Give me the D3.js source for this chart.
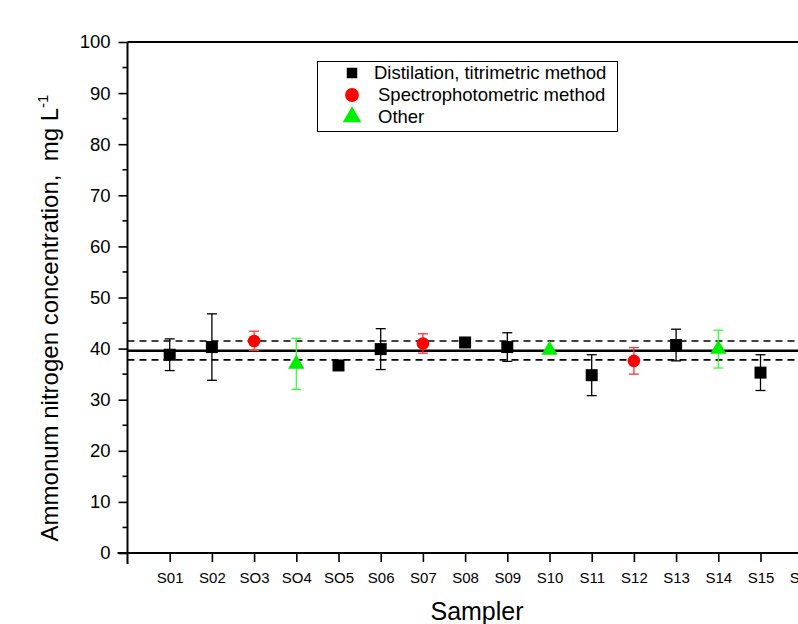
<html>
<head>
<style>
  body { margin: 0; background: #fff; }
  text { font-family: "Liberation Sans", Arial, sans-serif; fill: #000; }
</style>
</head>
<body>
<script src="https://d3js.org/d3.v7.min.js" charset="utf-8"></script>
<script type="text/javascript">

// data
var samplers = ["S01", "S02", "SO3", "SO4", "SO5", "S06", "S07", "S08", "S09", "S10", "S11", "S12", "S13", "S14", "S15", "S16"];
var methods  = ["D", "D", "S", "O", "D", "D", "S", "D", "D", "O", "D", "S", "D", "O", "D", null];
var values   = [38.8, 40.3, 41.5, 37.0, 36.7, 39.9, 41.0, 41.2, 40.3, 39.7, 34.8, 37.6, 40.7, 39.9, 35.3, null];
var errors   = [3.1, 6.5, 1.9, 5.0, 0, 4.0, 1.9, 0, 2.8, 0, 4.0, 2.6, 3.1, 3.7, 3.5, null];
var refLines = [{ v: 39.6, dash: false }, { v: 41.5, dash: true }, { v: 37.8, dash: true }];
var legendItems = [
  { key: "D", label: "Distilation, titrimetric method" },
  { key: "S", label: "Spectrophotometric method" },
  { key: "O", label: "Other" }
];
var yTicks = d3.range(0, 101, 10);

var width = 798, height = 624;
var x0 = 127.5, yTop = 42, yBot = 553;
var colors = { D: "#000000", S: "#ff0000", O: "#00ee00" };
var errColors = { D: "#000000", S: "#ff3333", O: "#33ff33" };

var svg = d3.select("body").append("svg")
    .attr("width", width)
    .attr("height", height);

var x = d3.scaleLinear().domain([0, 16]).range([x0, x0 + 16 * 42.2]);
var y = d3.scaleLinear().domain([0, 100]).range([yBot, yTop]);

// reference lines
svg.append("g").selectAll("line")
    .data(refLines).enter().append("line")
    .attr("x1", x0).attr("x2", width)
    .attr("y1", function(d) { return y(d.v); })
    .attr("y2", function(d) { return y(d.v); })
    .attr("stroke", "#000")
    .attr("stroke-width", function(d) { return d.dash ? 1.6 : 2.5; })
    .attr("stroke-dasharray", function(d) { return d.dash ? "7,5" : null; });

// y axis
var yAxis = svg.append("g")
    .attr("transform", "translate(" + x0 + ",0)")
    .call(d3.axisLeft(y).tickValues(yTicks).tickSize(9).tickPadding(8));
yAxis.select(".domain").remove();
yAxis.selectAll("line").attr("stroke-width", 1.6);
yAxis.selectAll("text").style("font-size", "18.5px");
// minor y ticks
svg.append("g").selectAll("line")
    .data(d3.range(5, 100, 10)).enter().append("line")
    .attr("x1", x0 - 5).attr("x2", x0)
    .attr("y1", function(d) { return y(d); })
    .attr("y2", function(d) { return y(d); })
    .attr("stroke", "#000").attr("stroke-width", 1.6);
svg.append("line")
    .attr("x1", x0).attr("x2", x0)
    .attr("y1", yTop).attr("y2", yBot + 11)
    .attr("stroke", "#000").attr("stroke-width", 2);

// x axis
var xAxis = svg.append("g")
    .attr("transform", "translate(0," + yBot + ")")
    .call(d3.axisBottom(x).tickValues(d3.range(1, 17))
      .tickFormat(function(d) { return samplers[d - 1]; })
      .tickSize(9).tickPadding(10));
xAxis.select(".domain").remove();
xAxis.selectAll("line").attr("stroke-width", 1.6);
xAxis.selectAll("text").style("font-size", "15px");
svg.append("line")
    .attr("x1", x0 - 10).attr("x2", width)
    .attr("y1", yBot).attr("y2", yBot)
    .attr("stroke", "#000").attr("stroke-width", 2);
// top frame
svg.append("line")
    .attr("x1", x0).attr("x2", width)
    .attr("y1", yTop).attr("y2", yTop)
    .attr("stroke", "#000").attr("stroke-width", 2);

// points
var pts = d3.range(samplers.length).filter(function(i) { return values[i] !== null; })
    .map(function(i) { return { i: i + 1, v: values[i], e: errors[i], m: methods[i] }; });

var eb = svg.append("g").selectAll("g")
    .data(pts.filter(function(d) { return d.e > 0; })).enter().append("g")
    .attr("stroke", function(d) { return errColors[d.m]; })
    .attr("stroke-width", 1.3);
eb.append("line")
    .attr("x1", function(d) { return x(d.i); }).attr("x2", function(d) { return x(d.i); })
    .attr("y1", function(d) { return y(d.v + d.e); }).attr("y2", function(d) { return y(d.v - d.e); });
eb.append("line")
    .attr("x1", function(d) { return x(d.i) - 5; }).attr("x2", function(d) { return x(d.i) + 5; })
    .attr("y1", function(d) { return y(d.v + d.e); }).attr("y2", function(d) { return y(d.v + d.e); });
eb.append("line")
    .attr("x1", function(d) { return x(d.i) - 5; }).attr("x2", function(d) { return x(d.i) + 5; })
    .attr("y1", function(d) { return y(d.v - d.e); }).attr("y2", function(d) { return y(d.v - d.e); });

var symbolOf = { D: d3.symbolSquare, S: d3.symbolCircle, O: d3.symbolTriangle };
var sizeOf = { D: 144, S: 125, O: 115 };

svg.append("g").selectAll("path")
    .data(pts).enter().append("path")
    .attr("transform", function(d) { return "translate(" + x(d.i) + "," + y(d.v) + ")"; })
    .attr("d", function(d) { return d3.symbol().type(symbolOf[d.m]).size(sizeOf[d.m])(); })
    .attr("fill", function(d) { return colors[d.m]; });

// legend
var lg = svg.append("g");
lg.append("rect")
    .attr("x", 317.5).attr("y", 61.5).attr("width", 300).attr("height", 70)
    .attr("fill", "#fff").attr("stroke", "#000").attr("stroke-width", 1);
var li = lg.selectAll("g.item")
    .data(legendItems).enter().append("g")
    .attr("class", "item")
    .attr("transform", function(d, i) { return "translate(352," + (73 + i * 22) + ")"; });
li.append("path")
    .attr("d", function(d) {
      var sz = d.key === "D" ? 110 : (d.key === "S" ? 150 : 150);
      return d3.symbol().type(symbolOf[d.key]).size(sz)();
    })
    .attr("fill", function(d) { return colors[d.key]; });
li.append("text")
    .attr("x", function(d, i) { return i === 0 ? 22 : 26; })
    .attr("y", 6)
    .style("font-size", "18.5px")
    .text(function(d) { return d.label; });

// axis titles
svg.append("text")
    .attr("x", 477).attr("y", 620)
    .attr("text-anchor", "middle")
    .style("font-size", "25px")
    .text("Sampler");

var yt = svg.append("text")
    .attr("transform", "translate(58,318) rotate(-90)")
    .attr("text-anchor", "middle")
    .attr("xml:space", "preserve")
    .style("white-space", "pre")
    .style("font-size", "24px");
yt.append("tspan").text("Ammonum nitrogen concentration,  mg L");
yt.append("tspan").attr("dy", -10).style("font-size", "15px").text("-1");

</script>
</body>
</html>
